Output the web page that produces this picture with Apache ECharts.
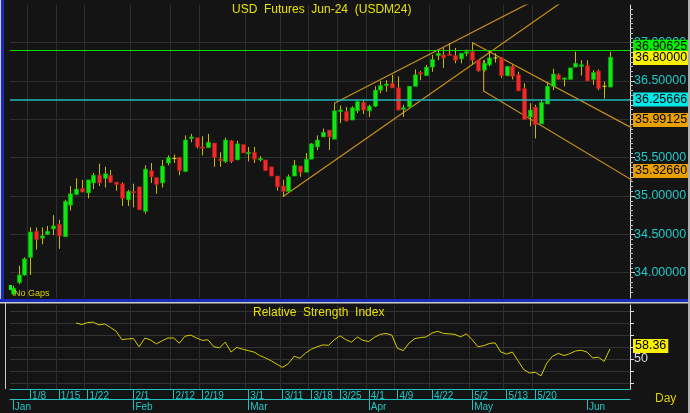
<!DOCTYPE html>
<html><head><meta charset="utf-8">
<script src="https://cdn.jsdelivr.net/npm/echarts@6/dist/echarts.min.js"></script>
<style>html,body{margin:0;padding:0;background:#141414}#c{width:690px;height:413px}</style>
</head><body><div id="c"></div>
<script>
const opens=[33.72,33.87,33.97,34.20,34.54,34.45,34.50,34.57,34.63,34.47,34.88,35.02,35.10,35.04,35.17,35.27,35.23,35.27,35.18,35.16,34.95,35.06,35.12,34.80,35.33,35.24,35.17,35.43,35.49,35.50,35.32,35.75,35.76,35.64,35.63,35.69,35.48,35.45,35.72,35.47,35.67,35.56,35.57,35.48,35.47,35.38,35.26,35.13,35.06,35.26,35.39,35.31,35.48,35.64,35.77,35.86,35.74,36.11,36.10,35.99,36.11,36.22,36.11,36.17,36.38,36.45,36.47,36.41,36.13,36.16,36.43,36.61,36.57,36.68,36.83,36.84,36.85,36.83,36.79,36.86,36.88,36.77,36.64,36.71,36.80,36.80,36.57,36.69,36.58,36.40,36.03,36.16,35.94,36.20,36.43,36.58,36.53,36.52,36.68,36.69,36.70,36.52,36.63,36.43,36.42];
const closes=[33.80,33.97,34.18,34.53,34.43,34.48,34.54,34.61,34.48,34.93,35.03,35.09,35.05,35.21,35.27,35.17,35.29,35.18,35.15,34.97,35.06,35.05,34.82,35.35,35.25,35.15,35.39,35.50,35.49,35.33,35.73,35.77,35.64,35.63,35.70,35.50,35.46,35.73,35.45,35.68,35.56,35.57,35.48,35.49,35.33,35.26,35.12,35.06,35.25,35.40,35.31,35.48,35.68,35.73,35.83,35.77,36.11,36.12,35.98,36.15,36.23,36.12,36.17,36.38,36.44,36.46,36.41,36.12,36.15,36.43,36.58,36.59,36.68,36.78,36.86,36.80,36.84,36.77,36.86,36.88,36.77,36.63,36.73,36.80,36.80,36.57,36.69,36.56,36.37,36.00,36.12,35.93,36.22,36.43,36.59,36.52,36.54,36.67,36.73,36.71,36.50,36.61,36.40,36.43,36.81];
const lows=[33.70,33.85,33.96,33.97,34.30,34.37,34.49,34.49,34.31,34.47,34.81,35.01,35.05,34.97,35.09,35.13,35.11,35.17,35.07,34.87,34.87,34.85,34.82,34.77,35.17,35.03,35.11,35.40,35.43,35.27,35.31,35.70,35.62,35.53,35.63,35.38,35.38,35.43,35.43,35.47,35.56,35.45,35.43,35.45,35.33,35.26,35.07,34.99,35.06,35.26,35.25,35.31,35.48,35.60,35.77,35.60,35.74,35.95,35.97,35.99,36.08,36.07,36.03,36.16,36.34,36.36,36.41,36.12,36.03,36.16,36.43,36.51,36.57,36.62,36.77,36.67,36.84,36.73,36.73,36.82,36.71,36.62,36.62,36.69,36.74,36.54,36.56,36.52,36.37,35.99,35.91,35.75,35.94,36.20,36.38,36.52,36.43,36.52,36.68,36.57,36.50,36.45,36.38,36.27,36.42];
const highs=[33.83,34.09,34.20,34.59,34.59,34.59,34.61,34.75,34.69,34.95,35.13,35.23,35.21,35.21,35.30,35.42,35.38,35.34,35.18,35.18,35.08,35.16,35.12,35.40,35.43,35.24,35.47,35.53,35.54,35.51,35.79,35.81,35.76,35.78,35.81,35.69,35.57,35.76,35.73,35.72,35.67,35.64,35.64,35.52,35.47,35.38,35.26,35.21,35.28,35.47,35.39,35.56,35.69,35.79,35.88,35.86,36.21,36.18,36.16,36.17,36.25,36.25,36.19,36.43,36.50,36.51,36.58,36.56,36.19,36.43,36.65,36.63,36.71,36.84,36.91,36.93,36.99,36.93,36.86,36.91,37.00,36.77,36.77,36.88,36.86,36.81,36.69,36.71,36.62,36.47,36.21,36.19,36.25,36.49,36.66,36.60,36.54,36.67,36.88,36.77,36.77,36.64,36.65,36.49,36.88];
const rsi=[null,null,null,null,null,null,null,null,null,null,null,
80.1,78.7,80.4,80.7,78.4,79.2,76.3,73.1,66.1,66.7,67.0,60.2,67.5,65.8,62.6,65.2,67.5,67.5,63.2,69.0,69.9,67.5,65.5,66.0,60.2,59.4,64.0,55.8,59.6,58.2,57.0,55.8,52.9,50.9,48.5,45.6,43.0,46.2,52.3,50.6,55.0,58.2,60.2,61.7,61.4,66.1,69.3,66.1,64.0,68.4,65.5,64.6,68.1,70.5,71.3,69.9,58.8,57.0,63.2,67.0,67.8,68.4,71.6,73.1,71.3,71.0,70.5,68.4,71.0,66.1,60.2,61.1,62.9,63.5,55.8,54.1,55.8,48.5,41.2,38.3,38.9,36.0,46.5,52.3,54.7,52.9,54.4,56.7,57.3,55.8,50.9,51.5,48.0,58.36];
const dateLabelIdx=[3,8,13,21,28,33,41,47,52,57,62,67,73,80,86,91];
const dateLabelText=['1/8','1/15','1/22','2/1','2/12','2/19','3/1','3/11','3/18','3/25','4/1','4/9','4/22','5/2','5/13','5/20'];
const monthIdx=[0,21,41,62,80,100];
const monthText=['Jan','Feb','Mar','Apr','May','Jun'];
const priceTicks=[34.0,34.5,35.0,35.5,36.0,36.5,37.0];
const levelGreen=36.90625, levelCyan=36.25666, lastPrice=36.80, chanUpper=35.99125, chanLower=35.32660;
const trendA=[[47,34.99],[97,37.60]];
const trendB=[[56,36.21],[95,37.71]];
const trendC=[[80.2,37.00],[107.6,35.88]];
const trendD=[[82.2,36.77],[82.2,36.37],[107.6,35.20]];
const rsiLast=58.36;

const NCAT=108;
const cats=[]; for(let i=0;i<NCAT;i++) cats.push(String(i));
const candles=opens.map((o,i)=>[i,o,closes[i],lows[i],highs[i]]);
const minorTicks=[]; for(let v=33.75;v<37.49;v+=0.0625) minorTicks.push(+v.toFixed(4));
const dateSet=new Set(dateLabelIdx), monthSet=new Set(monthIdx);

function renderCandle(params, api){
  const x=api.value(0),o=api.value(1),c=api.value(2),l=api.value(3),h=api.value(4);
  const pH=api.coord([x,h]), pL=api.coord([x,l]), pO=api.coord([x,o]), pC=api.coord([x,c]);
  const w=api.size([1,0])[0]*0.72;
  const cx=Math.round(pH[0])+0.5;
  const children=[{type:'line',shape:{x1:cx,y1:pH[1],x2:cx,y2:pL[1]},style:{stroke:'#c8b800',lineWidth:1}}];
  if(Math.abs(o-c)<0.005){
    children.push({type:'line',shape:{x1:cx-w/2,y1:pO[1],x2:cx+w/2,y2:pO[1]},style:{stroke:'#e8e000',lineWidth:1}});
  } else {
    const top=Math.min(pO[1],pC[1]), ht=Math.max(1.5,Math.abs(pO[1]-pC[1]));
    children.push({type:'rect',shape:{x:cx-w/2,y:top,width:w,height:ht},style:{fill:c>o?'#10e610':'#ee2a2a',stroke:c>o?'#08b008':'#b01818',lineWidth:0.6}});
  }
  return {type:'group',children};
}
function levelSeries(val,lineColor,lineWidth,bg,fg,xi,yi,digits,dy){
  return {type:'line',xAxisIndex:xi,yAxisIndex:yi,data:[],silent:true,z:5,
    markLine:{silent:true,symbol:'none',precision:6,animation:false,data:[{yAxis:val}],
      lineStyle:{color:lineColor,width:lineWidth,type:'solid'},
      label:{show:true,position:'end',distance:3,offset:[0,dy||0],formatter:()=>val.toFixed(digits),backgroundColor:bg,color:fg,fontSize:12.5,fontFamily:'Liberation Sans',padding:[1,2,0,2]}}};
}
const trendStyle={color:'#c8901a',width:1.2};
const trendSeries=(d)=>({type:'line',xAxisIndex:0,yAxisIndex:0,data:d,symbol:'none',lineStyle:trendStyle,silent:true,z:3,clip:true});
const vsplit={show:true,interval:(i)=>dateSet.has(i),lineStyle:{color:'#2e2e2e'}};

const chart=echarts.init(document.getElementById('c'));
chart.setOption({
  backgroundColor:'#141414',animation:false,
  grid:[{left:10,width:620,top:5,height:293},{left:10,width:620,top:305,height:84}],
  xAxis:[
    {type:'category',gridIndex:0,data:cats,boundaryGap:true,axisLine:{show:false},axisTick:{show:false,interval:(i)=>dateSet.has(i)},axisLabel:{show:false,interval:(i)=>dateSet.has(i)},splitLine:vsplit},
    {type:'category',gridIndex:1,data:cats,boundaryGap:true,position:'bottom',axisLine:{lineStyle:{color:'#20c0c0'}},
     axisTick:{show:true,alignWithLabel:true,length:10,interval:(i)=>dateSet.has(i),lineStyle:{color:'#20c0c0'}},
     axisLabel:{interval:(i)=>dateSet.has(i),formatter:(v)=>dateLabelText[dateLabelIdx.indexOf(+v)],align:'left',margin:2,padding:[0,0,0,2],color:'#20c8c8',fontSize:10,fontFamily:'Liberation Sans'},
     splitLine:vsplit},
    {type:'category',gridIndex:1,data:cats,boundaryGap:true,position:'bottom',offset:10,axisLine:{lineStyle:{color:'#20c0c0'}},
     axisTick:{show:true,alignWithLabel:true,length:11,interval:(i)=>monthSet.has(i),lineStyle:{color:'#20c0c0'}},
     axisLabel:{interval:(i)=>monthSet.has(i),formatter:(v)=>monthText[monthIdx.indexOf(+v)],align:'left',margin:3,padding:[0,0,0,2],color:'#20c8c8',fontSize:10,fontFamily:'Liberation Sans'},
     splitLine:{show:false}}
  ],
  yAxis:[
    {type:'value',gridIndex:0,position:'right',min:33.67,max:37.49,
     axisLine:{show:true,lineStyle:{color:'#dddddd'}},
     axisTick:{show:true,customValues:priceTicks,length:5,lineStyle:{color:'#dddddd'}},
     axisLabel:{customValues:priceTicks,formatter:v=>v.toFixed(5),color:'#20c8c8',fontSize:12.5,fontFamily:'Liberation Sans',margin:4},
     splitLine:{show:true,lineStyle:{color:'#2e2e2e'}}},
    {type:'value',gridIndex:0,position:'right',min:33.67,max:37.49,
     axisLine:{show:false},axisTick:{show:true,customValues:minorTicks,length:3,lineStyle:{color:'#bbbbbb'}},
     axisLabel:{show:false},splitLine:{show:false}},
    {type:'value',gridIndex:1,position:'right',min:25,max:95,
     axisLine:{show:true,lineStyle:{color:'#dddddd'}},
     axisTick:{show:true,customValues:[30,40,50,60,70,80,90],length:4,lineStyle:{color:'#dddddd'}},
     axisLabel:{customValues:[50],color:'#dddddd',fontSize:12.5,fontFamily:'Liberation Sans',margin:4,padding:[4,0,0,0]},
     splitLine:{show:true,lineStyle:{color:'#333333'}}}
  ],
  series:[
    {type:'custom',xAxisIndex:0,yAxisIndex:0,data:candles,renderItem:renderCandle,z:4,encode:{x:0,y:[1,2,3,4]}},
    trendSeries(trendA),trendSeries(trendB),trendSeries(trendC),trendSeries(trendD),
    levelSeries(chanUpper,'rgba(0,0,0,0)',0,'#e8a000','#000',0,0,5),
    levelSeries(chanLower,'rgba(0,0,0,0)',0,'#e8a000','#000',0,0,5),
    levelSeries(levelCyan,'#20b8b8',1.5,'#00e8e8','#000',0,0,5),
    levelSeries(levelGreen,'#00e000',1.2,'#00f000','#000',0,0,5,-3),
    levelSeries(lastPrice,'rgba(0,0,0,0)',0,'#f8f000','#000',0,0,5),
    {type:'line',xAxisIndex:1,yAxisIndex:2,data:rsi,symbol:'none',lineStyle:{color:'#d8cc00',width:1},connectNulls:false,z:4},
    levelSeries(rsiLast,'rgba(0,0,0,0)',0,'#f8f000','#000',1,2,2,-3)
  ],
  graphic:[
    {type:'rect',shape:{x:0,y:0,width:1,height:300},style:{fill:'#cccccc'},z:10},
    {type:'rect',shape:{x:1,y:0,width:3,height:300},style:{fill:'#1c2ab8'},z:10},
    {type:'rect',shape:{x:0,y:299,width:690,height:3},style:{fill:'#1c2ab8'},z:10},
    {type:'rect',shape:{x:0,y:302,width:690,height:1.5},style:{fill:'#cccccc'},z:10},
    {type:'rect',shape:{x:5,y:303,width:1,height:86},style:{fill:'#cccccc'},z:10},
    {type:'rect',shape:{x:688,y:0,width:2,height:413},style:{fill:'#b0b0b0'},z:10},
    {type:'text',x:232,y:4,style:{text:'USD  Futures  Jun-24  (USDM24)',fill:'#e8e000',fontSize:12,fontFamily:'Liberation Sans'},z:10},
    {type:'text',x:14,y:289,style:{text:'No Gaps',fill:'#d8d000',fontSize:9,fontFamily:'Liberation Sans'},z:10},
    {type:'rect',shape:{x:9,y:285,width:3,height:5},style:{fill:'#00ff00'},z:10},
    {type:'text',x:253,y:307,style:{text:'Relative  Strength  Index',fill:'#e8e000',fontSize:12,fontFamily:'Liberation Sans'},z:10},
    {type:'text',x:655,y:393,style:{text:'Day',fill:'#d8d000',fontSize:12,fontFamily:'Liberation Sans'},z:10}
  ]
});
</script></body></html>
